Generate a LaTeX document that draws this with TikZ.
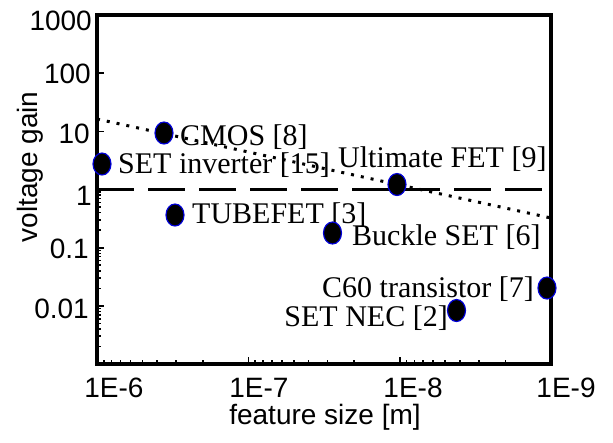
\documentclass[tikz,border=0pt]{standalone}
\usepackage{fontspec}
\setmainfont{Liberation Serif}
\newfontfamily\axisfont{Liberation Sans}
\usetikzlibrary{positioning,calc,shapes.geometric}

\begin{document}
\begin{tikzpicture}[
    x=1pt, y=-1pt,
    every node/.style={inner sep=0pt},
    ticklabel/.style={font=\axisfont\fontsize{28}{32}\selectfont},
    axislabel/.style={font=\axisfont\fontsize{28}{32}\selectfont},
    datalabel/.style={font=\fontsize{30}{34}\selectfont},
    datapoint/.style={ellipse, draw=blue!85!black, fill=black, line width=1.2pt, minimum width=18pt, minimum height=22pt},
    frame/.style={line width=3.5pt, line join=miter},
    tickmark/.style={line width=1.6pt}
]
\useasboundingbox (0,0) rectangle (613,442);

% Axes
\draw[frame] (97,15) rectangle (551,364);
\foreach \xt in {248.3,399.7} \draw[tickmark] (\xt,364) -- (\xt,357);
\foreach \yt in {73.2,131.3,247.7,305.8} \draw[tickmark] (97,\yt) -- (104,\yt);
\foreach \d in {0,1,2} {
  \foreach \k in {2,...,9} {
    \pgfmathsetmacro\xm{97+151.33*(\d+1-log10(\k))}
    \draw[tickmark] (\xm,364) -- (\xm,360);
  }
}
\foreach \d in {1,2,3} {
  \foreach \k in {2,...,9} {
    \pgfmathsetmacro\ym{15+58.17*(3+\d-log10(\k))}
    \draw[tickmark] (97,\ym) -- (101,\ym);
  }
}

% Tick labels
\node[ticklabel, anchor=east] (y1000) at (92,21) {1000};
\node[ticklabel, anchor=east] (y100) at (91,74) {100};
\node[ticklabel, anchor=east] (y10) at (90,134) {10};
\node[ticklabel, anchor=east] (y1) at (92,196) {1};
\node[ticklabel, anchor=east] (y01) at (89,249) {0.1};
\node[ticklabel, anchor=east] (y001) at (89,309) {0.01};
\node[ticklabel, anchor=base] (x6) at (114,397) {1E-6};
\node[ticklabel, anchor=base] (x7) at (259,397) {1E-7};
\node[ticklabel, anchor=base] (x8) at (413,397) {1E-8};
\node[ticklabel, anchor=base] (x9) at (566,397) {1E-9};
\node[axislabel, rotate=90] (ylabel) at (30,167) {voltage gain};
\node[axislabel, anchor=base] (xlabel) at (325,424) {feature size [m]};

% Unity gain
\draw[line width=3.5pt, dash pattern=on 37pt off 14pt] (97,189.5) -- (551,189.5);

% Labels
\node[datalabel, anchor=base west] (setinvlbl) at (118,173) {SET inverter [15]};
\node[datalabel, anchor=base west] (cmoslbl) at (180,145) {CMOS [8]};
\node[datalabel, anchor=base west] (tubelbl) at (192,223) {TUBEFET [3]};
\node[datalabel, anchor=base west] (ultlbl) at (338,167) {Ultimate FET [9]};
\node[datalabel, anchor=base west] (bucklelbl) at (352,245) {Buckle SET [6]};
\node[datalabel, anchor=base west] (csixtylbl) at (322,297) {C60 transistor [7]};
\node[datalabel, anchor=base east] (seneclbl) at (448,326) {SET NEC [2]};

% Trend
\draw[line width=3pt, dash pattern=on 3pt off 7pt] (97,119) -- (551,218);

% Data points
\node[datapoint] (setinv) at (102,164) {};
\node[datapoint] (cmos) at (164,133) {};
\node[datapoint] (tubefet) at (175,215) {};
\node[datapoint] (ultfet) at (397,184.5) {};
\node[datapoint] (buckle) at (332.5,233) {};
\node[datapoint] (csixty) at (547,288) {};
\node[datapoint] (setnec) at (456.5,310.5) {};

\end{tikzpicture}
\end{document}
